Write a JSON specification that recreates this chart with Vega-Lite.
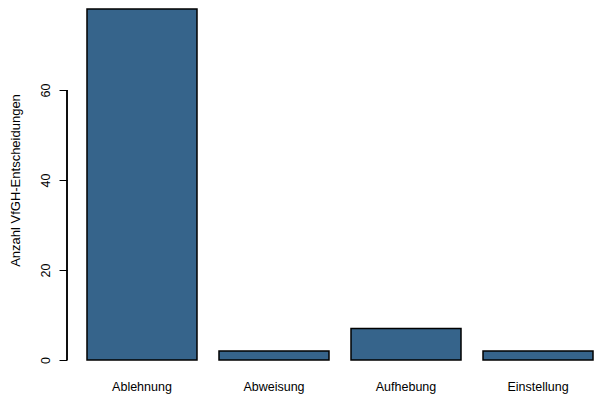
{
  "$schema": "https://vega.github.io/schema/vega-lite/v6.json",
  "autosize": {"type": "none"},
  "padding": {"left": 80, "top": 0, "right": 0, "bottom": 38},
  "width": 520,
  "height": 360,
  "background": "white",
  "config": {"view": {"stroke": null}, "font": "Liberation Sans"},
  "data": {"values": [
    {"Entscheidung": "Ablehnung", "Anzahl": 78},
    {"Entscheidung": "Abweisung", "Anzahl": 2},
    {"Entscheidung": "Aufhebung", "Anzahl": 7},
    {"Entscheidung": "Einstellung", "Anzahl": 2}
  ]},
  "layer": [
    {
      "mark": {"type": "bar", "color": "#36648B", "stroke": "black", "strokeWidth": 1.5},
      "encoding": {
        "x": {"field": "Entscheidung", "type": "nominal", "sort": null,
          "scale": {"paddingInner": 0.1667, "paddingOuter": 0.053},
          "axis": {"title": null, "domain": false, "ticks": false, "labelAngle": 0, "labelFontSize": 12.5, "labelColor": "black", "labelPadding": 20, "labelFont": "Liberation Sans"}},
        "y": {"field": "Anzahl", "type": "quantitative",
          "scale": {"domain": [0, 80], "nice": false},
          "axis": {"title": "Anzahl VfGH-Entscheidungen", "titleFontSize": 13, "titleFontWeight": "normal", "titleColor": "black", "titlePadding": 17,
            "values": [0, 20, 40, 60], "grid": false, "domain": false, "offset": 13,
            "tickColor": "black", "tickSize": 8, "tickWidth": 1,
            "labelAngle": 270, "labelAlign": "center", "labelBaseline": "bottom", "labelPadding": 7,
            "labelFontSize": 12.5, "labelColor": "black", "labelFont": "Liberation Sans", "titleFont": "Liberation Sans"}}
      }
    },
    {
      "mark": {"type": "rule", "color": "black", "strokeWidth": 1, "xOffset": -13},
      "encoding": {
        "x": {"value": 0},
        "y": {"datum": 0, "type": "quantitative"},
        "y2": {"datum": 60}
      }
    }
  ]
}
